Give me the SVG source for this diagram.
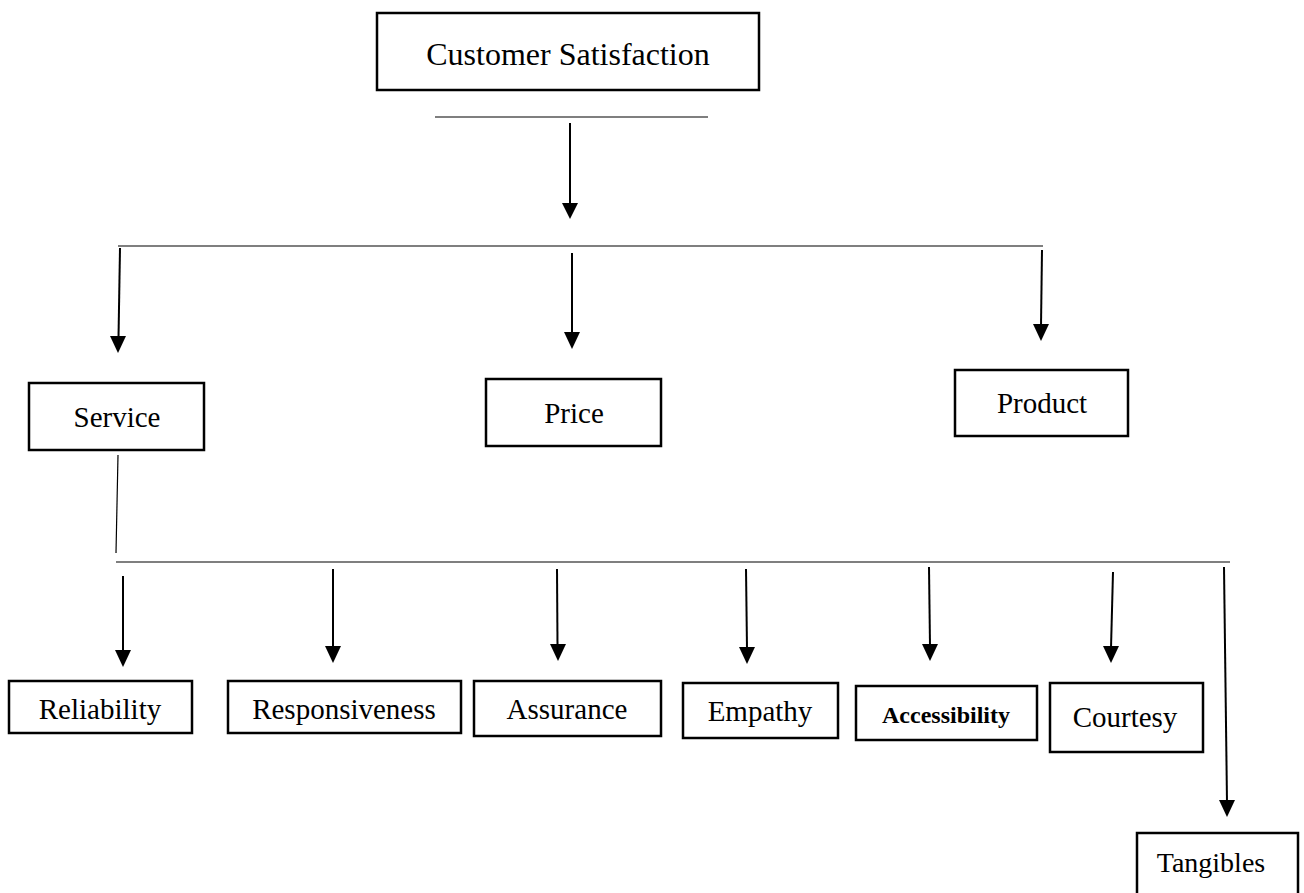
<svg xmlns="http://www.w3.org/2000/svg" width="1304" height="893" viewBox="0 0 1304 893">
  <style>
    .box { fill: #fff; stroke: #000; stroke-width: 2.5; }
    .lbl { font-family: "Liberation Serif", "Times New Roman", serif; font-size: 29px; fill: #000; text-anchor: middle; }
    .bar { stroke: #000; stroke-width: 1.2; fill: none; }
    .shaft { stroke: #000; stroke-width: 2; fill: none; }
    .tip { fill: #000; }
  </style>

  <!-- connectors: thin bus lines, arrow shafts and solid triangular heads -->
  <g id="connectors">
    <line class="bar" x1="435" y1="117" x2="708" y2="117"/>
    <path class="shaft" d="M570,123 V205"/>
    <polygon class="tip" points="562,203 578,203 570,219"/>

    <line class="bar" x1="118" y1="246" x2="1043" y2="246"/>
    <path class="shaft" d="M120,248 L118.5,338"/>
    <polygon class="tip" points="110,336 126,336 118,353"/>
    <path class="shaft" d="M572,253 V335"/>
    <polygon class="tip" points="564,332 580,332 572,349"/>
    <path class="shaft" d="M1042,250 L1041,326"/>
    <polygon class="tip" points="1033,324 1049,324 1041,341"/>

    <line class="bar" x1="118" y1="455" x2="116" y2="553"/>
    <line class="bar" x1="116" y1="562" x2="1230" y2="562"/>

    <path class="shaft" d="M123,576 V652"/>
    <polygon class="tip" points="115,650 131,650 123,667"/>
    <path class="shaft" d="M333,569 V648"/>
    <polygon class="tip" points="325,646 341,646 333,663"/>
    <path class="shaft" d="M557,569 L557.5,646"/>
    <polygon class="tip" points="550,644 566,644 558,661"/>
    <path class="shaft" d="M746,569 L747,649"/>
    <polygon class="tip" points="739,647 755,647 747,664"/>
    <path class="shaft" d="M929,567 L930,646"/>
    <polygon class="tip" points="922,644 938,644 930,661"/>
    <path class="shaft" d="M1113,572 L1111,648"/>
    <polygon class="tip" points="1103,646 1119,646 1111,663"/>
    <path class="shaft" d="M1224,567 L1227,802"/>
    <polygon class="tip" points="1219,800 1235,800 1227,817"/>
  </g>

  <!-- nodes -->
  <g id="customer-satisfaction">
    <rect class="box" x="377" y="13" width="382" height="77"/>
    <text class="lbl" x="568" y="65" style="font-size:32px">Customer Satisfaction</text>
  </g>
  <g id="service">
    <rect class="box" x="29" y="383" width="175" height="67"/>
    <text class="lbl" x="117" y="427">Service</text>
  </g>
  <g id="price">
    <rect class="box" x="486" y="379" width="175" height="67"/>
    <text class="lbl" x="574" y="423">Price</text>
  </g>
  <g id="product">
    <rect class="box" x="955" y="370" width="173" height="66"/>
    <text class="lbl" x="1042" y="413">Product</text>
  </g>
  <g id="reliability">
    <rect class="box" x="9" y="681" width="183" height="52"/>
    <text class="lbl" x="100" y="719">Reliability</text>
  </g>
  <g id="responsiveness">
    <rect class="box" x="228" y="681" width="233" height="52"/>
    <text class="lbl" x="344" y="719">Responsiveness</text>
  </g>
  <g id="assurance">
    <rect class="box" x="474" y="681" width="187" height="55"/>
    <text class="lbl" x="567" y="719">Assurance</text>
  </g>
  <g id="empathy">
    <rect class="box" x="683" y="683" width="155" height="55"/>
    <text class="lbl" x="760" y="721">Empathy</text>
  </g>
  <g id="accessibility">
    <rect class="box" x="856" y="686" width="181" height="54"/>
    <text class="lbl" x="946" y="723" style="font-size:24px;font-weight:bold">Accessibility</text>
  </g>
  <g id="courtesy">
    <rect class="box" x="1050" y="683" width="153" height="69"/>
    <text class="lbl" x="1125" y="727">Courtesy</text>
  </g>
  <g id="tangibles">
    <rect class="box" x="1137" y="833" width="161" height="70"/>
    <text class="lbl" x="1211" y="872" style="font-size:28px">Tangibles</text>
  </g>
</svg>
